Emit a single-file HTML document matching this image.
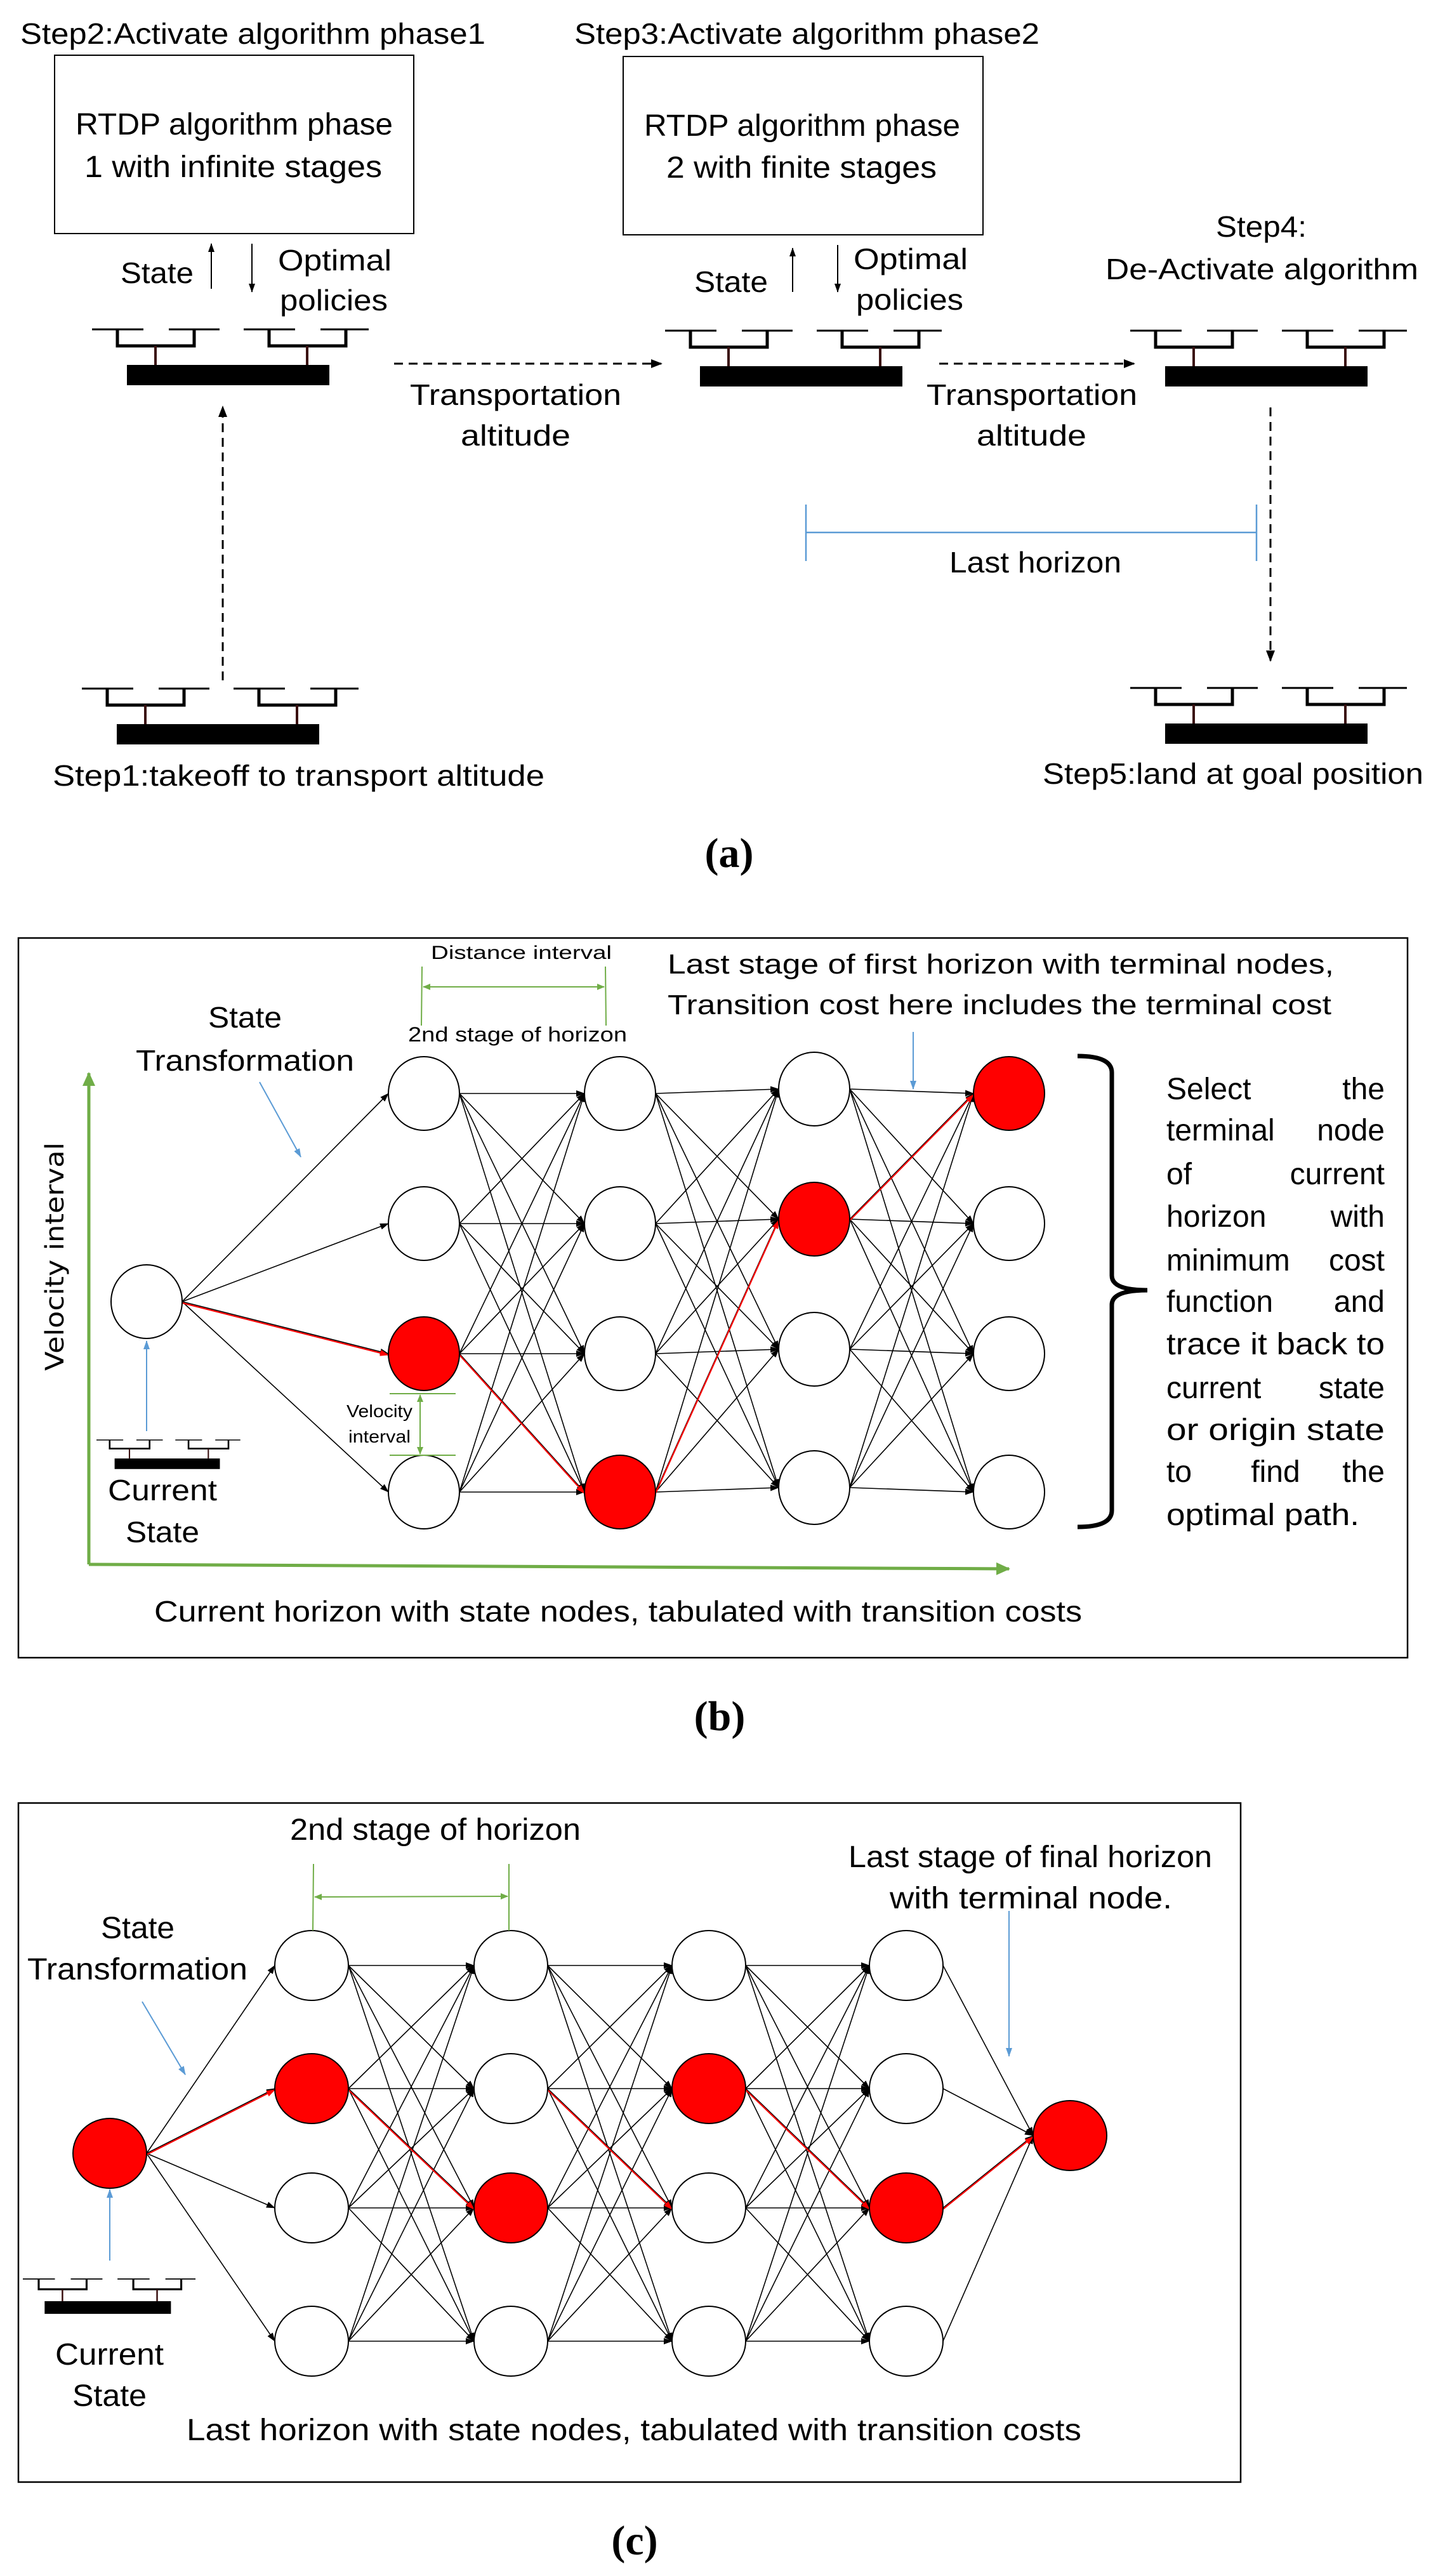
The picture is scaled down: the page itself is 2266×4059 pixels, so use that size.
<!DOCTYPE html>
<html><head><meta charset="utf-8">
<style>
html,body{margin:0;padding:0;background:#fff;}
svg{display:block;}
text{font-family:"Liberation Sans",sans-serif;fill:#000;}
.ser{font-family:"Liberation Serif",serif;font-weight:bold;}
.dv{font-family:"DejaVu Sans",sans-serif;}
</style></head>
<body>
<svg id="s" xmlns="http://www.w3.org/2000/svg" width="2266" height="4059" viewBox="0 0 2266 4059">
<defs>
<marker id="ah" markerUnits="userSpaceOnUse" markerWidth="18" markerHeight="14" refX="16" refY="7" orient="auto"><path d="M0,0 L18,7 L0,14 z" fill="#000"/></marker>
<marker id="ahs" markerUnits="userSpaceOnUse" markerWidth="14" markerHeight="10" refX="13" refY="5" orient="auto"><path d="M0,0 L14,5 L0,10 z" fill="#000"/></marker>
<marker id="ahr" markerUnits="userSpaceOnUse" markerWidth="14" markerHeight="10" refX="13" refY="5" orient="auto"><path d="M0,0 L14,5 L0,10 z" fill="#f00"/></marker>
<marker id="ahb" markerUnits="userSpaceOnUse" markerWidth="14" markerHeight="10" refX="13" refY="5" orient="auto"><path d="M0,0 L14,5 L0,10 z" fill="#5B9BD5"/></marker>
<marker id="ahg" markerUnits="userSpaceOnUse" markerWidth="22" markerHeight="20" refX="20" refY="10" orient="auto"><path d="M0,0 L22,10 L0,20 z" fill="#70AD47"/></marker>
<marker id="ahg2" markerUnits="userSpaceOnUse" markerWidth="12" markerHeight="10" refX="11" refY="5" orient="auto-start-reverse"><path d="M0,0 L12,5 L0,10 z" fill="#70AD47"/></marker>
<g id="drone">
 <g stroke="#000" stroke-width="3" fill="none">
  <line x1="0" y1="0" x2="81" y2="0"/><line x1="121" y1="0" x2="201" y2="0"/>
  <line x1="239" y1="0" x2="320" y2="0"/><line x1="360" y1="0" x2="436" y2="0"/>
  <path d="M40,0 V26 H161 V0" stroke-width="5"/>
  <path d="M279,0 V26 H400 V0" stroke-width="5"/>
  <line x1="100" y1="26" x2="100" y2="56" stroke="#3a1010" stroke-width="4"/>
  <line x1="339" y1="26" x2="339" y2="56" stroke="#3a1010" stroke-width="4"/>
 </g>
 <rect x="55" y="56" width="319" height="32" fill="#000"/>
</g>
</defs>

<!-- ===== (a) ===== -->
<text x="32" y="69" font-size="46" textLength="733" lengthAdjust="spacingAndGlyphs">Step2:Activate algorithm phase1</text>
<text x="905" y="69" font-size="46" textLength="733" lengthAdjust="spacingAndGlyphs">Step3:Activate algorithm phase2</text>
<rect x="86" y="87" width="566" height="281" fill="none" stroke="#000" stroke-width="2"/>
<rect x="982" y="89" width="567" height="281" fill="none" stroke="#000" stroke-width="2"/>
<text x="119" y="212" font-size="48" textLength="500" lengthAdjust="spacingAndGlyphs">RTDP algorithm phase</text>
<text x="133" y="279" font-size="48" textLength="469" lengthAdjust="spacingAndGlyphs">1 with infinite stages</text>
<text x="1015" y="214" font-size="48" textLength="498" lengthAdjust="spacingAndGlyphs">RTDP algorithm phase</text>
<text x="1050" y="280" font-size="48" textLength="426" lengthAdjust="spacingAndGlyphs">2 with finite stages</text>

<g stroke="#000" stroke-width="2">
 <line x1="333" y1="455" x2="333" y2="384" marker-end="url(#ahs)"/>
 <line x1="397" y1="384" x2="397" y2="460" marker-end="url(#ahs)"/>
 <line x1="1249" y1="460" x2="1249" y2="391" marker-end="url(#ahs)"/>
 <line x1="1320" y1="386" x2="1320" y2="460" marker-end="url(#ahs)"/>
</g>
<text x="190" y="446" font-size="46" textLength="115" lengthAdjust="spacingAndGlyphs">State</text>
<text x="438" y="426" font-size="46" textLength="179" lengthAdjust="spacingAndGlyphs">Optimal</text>
<text x="441" y="489" font-size="46" textLength="170" lengthAdjust="spacingAndGlyphs">policies</text>
<text x="1094" y="460" font-size="46" textLength="116" lengthAdjust="spacingAndGlyphs">State</text>
<text x="1345" y="424" font-size="46" textLength="180" lengthAdjust="spacingAndGlyphs">Optimal</text>
<text x="1349" y="488" font-size="46" textLength="169" lengthAdjust="spacingAndGlyphs">policies</text>

<use href="#drone" x="145" y="519"/>
<use href="#drone" x="1048" y="521"/>
<use href="#drone" x="1781" y="521"/>
<use href="#drone" x="1781" y="1084"/>
<use href="#drone" x="129" y="1085"/>

<g stroke="#000" stroke-width="3" stroke-dasharray="14 9" fill="none">
 <line x1="621" y1="573" x2="1042" y2="573" marker-end="url(#ah)"/>
 <line x1="1480" y1="573" x2="1787" y2="573" marker-end="url(#ah)"/>
 <line x1="351" y1="1072" x2="351" y2="641" marker-end="url(#ah)"/>
 <line x1="2002" y1="642" x2="2002" y2="1041" marker-end="url(#ah)"/>
</g>
<text x="646" y="638" font-size="46" textLength="333" lengthAdjust="spacingAndGlyphs">Transportation</text>
<text x="726" y="702" font-size="46" textLength="173" lengthAdjust="spacingAndGlyphs">altitude</text>
<text x="1460" y="638" font-size="46" textLength="332" lengthAdjust="spacingAndGlyphs">Transportation</text>
<text x="1539" y="702" font-size="46" textLength="173" lengthAdjust="spacingAndGlyphs">altitude</text>
<text x="1916" y="373" font-size="46" textLength="143" lengthAdjust="spacingAndGlyphs">Step4:</text>
<text x="1742" y="440" font-size="46" textLength="493" lengthAdjust="spacingAndGlyphs">De-Activate algorithm</text>
<g stroke="#5B9BD5" stroke-width="2.5">
 <line x1="1270" y1="839" x2="1980" y2="839"/>
 <line x1="1270" y1="795" x2="1270" y2="884"/>
 <line x1="1980" y1="795" x2="1980" y2="884"/>
</g>
<text x="1496" y="902" font-size="46" textLength="271" lengthAdjust="spacingAndGlyphs">Last horizon</text>
<text x="1643" y="1235" font-size="46" textLength="600" lengthAdjust="spacingAndGlyphs">Step5:land at goal position</text>
<text x="83" y="1238" font-size="46" textLength="775" lengthAdjust="spacingAndGlyphs">Step1:takeoff to transport altitude</text>
<text class="ser" x="1149" y="1366" font-size="66" text-anchor="middle">(a)</text>

<!-- ===== (b) ===== -->
<rect x="29" y="1478" width="2189" height="1134" fill="none" stroke="#000" stroke-width="2.5"/>
<g id="gb"></g>
<g stroke="#70AD47" stroke-width="5" fill="none">
 <line x1="140" y1="2465" x2="140" y2="1691" marker-end="url(#ahg)"/>
 <line x1="140" y1="2465" x2="1590" y2="2472" marker-end="url(#ahg)"/>
</g>
<g stroke="#70AD47" stroke-width="2" fill="none">
 <line x1="665" y1="1523" x2="664" y2="1616"/>
 <line x1="954" y1="1523" x2="955" y2="1616"/>
 <line x1="667" y1="1555" x2="952" y2="1555" marker-start="url(#ahg2)" marker-end="url(#ahg2)"/>
 <line x1="614" y1="2196" x2="718" y2="2196"/>
 <line x1="614" y1="2293" x2="718" y2="2293"/>
 <line x1="662" y1="2198" x2="662" y2="2291" marker-start="url(#ahg2)" marker-end="url(#ahg2)"/>
</g>
<g stroke="#5B9BD5" stroke-width="2" fill="none">
 <line x1="409" y1="1705" x2="474" y2="1823" marker-end="url(#ahb)"/>
 <line x1="1439" y1="1626" x2="1439" y2="1716" marker-end="url(#ahb)"/>
 <line x1="231" y1="2255" x2="231" y2="2113" marker-end="url(#ahb)"/>
</g>
<text class="dv" transform="translate(100,2160) rotate(-90)" x="0" y="0" font-size="40" textLength="360" lengthAdjust="spacingAndGlyphs">Velocity interval</text>
<use href="#drone" transform="translate(152,2269) scale(0.52)"/>
<text x="170" y="2364" font-size="46" textLength="172" lengthAdjust="spacingAndGlyphs">Current</text>
<text x="198" y="2430" font-size="46" textLength="116" lengthAdjust="spacingAndGlyphs">State</text>
<text x="328" y="1619" font-size="46" textLength="116" lengthAdjust="spacingAndGlyphs">State</text>
<text x="214" y="1687" font-size="46" textLength="344" lengthAdjust="spacingAndGlyphs">Transformation</text>
<text x="679" y="1511" font-size="30" textLength="285" lengthAdjust="spacingAndGlyphs">Distance interval</text>
<text x="643" y="1641" font-size="32" textLength="345" lengthAdjust="spacingAndGlyphs">2nd stage of horizon</text>
<text x="546" y="2233" font-size="28" textLength="104" lengthAdjust="spacingAndGlyphs">Velocity</text>
<text x="549" y="2273" font-size="28" textLength="98" lengthAdjust="spacingAndGlyphs">interval</text>
<text x="1052" y="1534" font-size="44" textLength="1050" lengthAdjust="spacingAndGlyphs">Last stage of first horizon with terminal nodes,</text>
<text x="1052" y="1598" font-size="44" textLength="1046" lengthAdjust="spacingAndGlyphs">Transition cost here includes the terminal cost</text>
<path d="M1698,1664 Q1752,1664 1752,1690 L1752,2010 Q1752,2033 1808,2033 Q1752,2033 1752,2056 L1752,2380 Q1752,2406 1698,2406" fill="none" stroke="#000" stroke-width="7"/>
<g font-size="48">
 <text x="1838" y="1732">Select</text><text x="2182" y="1732" text-anchor="end">the</text>
 <text x="1838" y="1797">terminal</text><text x="2182" y="1797" text-anchor="end">node</text>
 <text x="1838" y="1866">of</text><text x="2182" y="1866" text-anchor="end">current</text>
 <text x="1838" y="1933">horizon</text><text x="2182" y="1933" text-anchor="end">with</text>
 <text x="1838" y="2002">minimum</text><text x="2182" y="2002" text-anchor="end">cost</text>
 <text x="1838" y="2067">function</text><text x="2182" y="2067" text-anchor="end">and</text>
 <text x="1838" y="2134" textLength="344" lengthAdjust="spacingAndGlyphs">trace it back to</text>
 <text x="1838" y="2203">current</text><text x="2182" y="2203" text-anchor="end">state</text>
 <text x="1838" y="2269" textLength="344" lengthAdjust="spacingAndGlyphs">or origin state</text>
 <text x="1838" y="2335">to</text><text x="2010" y="2335" text-anchor="middle">find</text><text x="2182" y="2335" text-anchor="end">the</text>
 <text x="1838" y="2403" textLength="304" lengthAdjust="spacingAndGlyphs">optimal path.</text>
</g>
<text x="243" y="2555" font-size="46" textLength="1462" lengthAdjust="spacingAndGlyphs">Current horizon with state nodes, tabulated with transition costs</text>
<text class="ser" x="1134" y="2726" font-size="66" text-anchor="middle">(b)</text>

<!-- ===== (c) ===== -->
<rect x="29" y="2841" width="1926" height="1070" fill="none" stroke="#000" stroke-width="2.5"/>
<g id="gc"></g>
<g stroke="#70AD47" stroke-width="2" fill="none">
 <line x1="494" y1="2937" x2="493" y2="3042"/>
 <line x1="802" y1="2937" x2="802" y2="3042"/>
 <line x1="496" y1="2989" x2="800" y2="2988" marker-start="url(#ahg2)" marker-end="url(#ahg2)"/>
</g>
<g stroke="#5B9BD5" stroke-width="2" fill="none">
 <line x1="224" y1="3154" x2="292" y2="3269" marker-end="url(#ahb)"/>
 <line x1="1590" y1="3011" x2="1590" y2="3240" marker-end="url(#ahb)"/>
 <line x1="173" y1="3562" x2="173" y2="3450" marker-end="url(#ahb)"/>
</g>
<text x="457" y="2899" font-size="48" textLength="458" lengthAdjust="spacingAndGlyphs">2nd stage of horizon</text>
<text x="159" y="3054" font-size="48" textLength="116" lengthAdjust="spacingAndGlyphs">State</text>
<text x="43" y="3119" font-size="48" textLength="347" lengthAdjust="spacingAndGlyphs">Transformation</text>
<text x="1337" y="2942" font-size="48" textLength="573" lengthAdjust="spacingAndGlyphs">Last stage of final horizon</text>
<text x="1402" y="3007" font-size="48" textLength="445" lengthAdjust="spacingAndGlyphs">with terminal node.</text>
<use href="#drone" transform="translate(36,3591) scale(0.624)"/>
<text x="87" y="3726" font-size="48" textLength="171" lengthAdjust="spacingAndGlyphs">Current</text>
<text x="114" y="3791" font-size="48" textLength="117" lengthAdjust="spacingAndGlyphs">State</text>
<text x="294" y="3845" font-size="48" textLength="1410" lengthAdjust="spacingAndGlyphs">Last horizon with state nodes, tabulated with transition costs</text>
<text class="ser" x="1000" y="4025" font-size="66" text-anchor="middle">(c)</text>
</svg>
<script>
(function(){
var NS="http://www.w3.org/2000/svg";
function el(t,a,p){var e=document.createElementNS(NS,t);for(var k in a)e.setAttribute(k,a[k]);p.appendChild(e);return e;}
function build(gid,cols,rowsFn,rx,ry,origin,term,redNodes,redEdges){
 var g=document.getElementById(gid);
 var eg=el('g',{},g), rg=el('g',{},g), ng=el('g',{},g);
 function line(a,b,red){
  el('line',{x1:a[0]+rx,y1:a[1],x2:b[0]-rx,y2:b[1],stroke:'#000','stroke-width':1.6,'marker-end':'url(#ahs)'},eg);
  if(red) el('line',{x1:a[0]+rx,y1:a[1]+2,x2:b[0]-rx,y2:b[1]+2,stroke:'#f00','stroke-width':2.2,'marker-end':'url(#ahr)'},rg);
 }
 var P=[];for(var c=0;c<cols.length;c++){P.push([]);var rs=rowsFn(c);for(var r=0;r<4;r++)P[c].push([cols[c],rs[r]]);}
 function isRed(k){return redEdges.indexOf(k)>=0;}
 for(var r=0;r<4;r++) line(origin,P[0][r],isRed('o-'+r));
 for(var c=0;c<cols.length-1;c++)for(var a=0;a<4;a++)for(var b=0;b<4;b++) line(P[c][a],P[c+1][b],isRed(c+':'+a+'-'+b));
 if(term) for(var r=0;r<4;r++) line(P[cols.length-1][r],term,isRed('t-'+r));
 function node(p,red){el('ellipse',{cx:p[0],cy:p[1],rx:rx,ry:ry,fill:red?'#f00':'#fff',stroke:'#000','stroke-width':2},ng);}
 node(origin[0]?origin:origin,origin[2]);
 if(term) node(term,term[2]);
 for(var c=0;c<cols.length;c++)for(var r=0;r<4;r++) node(P[c][r],redNodes.indexOf(c+'-'+r)>=0);
}
build('gb',[668,977,1283,1590],function(c){var d=(c==2)?-7:0;return [1723+d,1928+d,2133+d,2351+d];},56,58,
 [231,2051,false],null,['0-2','1-3','2-1','3-0'],['o-2','0:2-3','1:3-1','2:1-0']);
build('gc',[491,805,1117,1428],function(c){return [3097,3291,3479,3689];},58,55,
 [173,3393,true],[1686,3365,true],['0-1','1-2','2-1','3-2'],['o-1','0:1-2','1:1-2','2:1-2','t-2']);
})();
</script>
</body></html>
